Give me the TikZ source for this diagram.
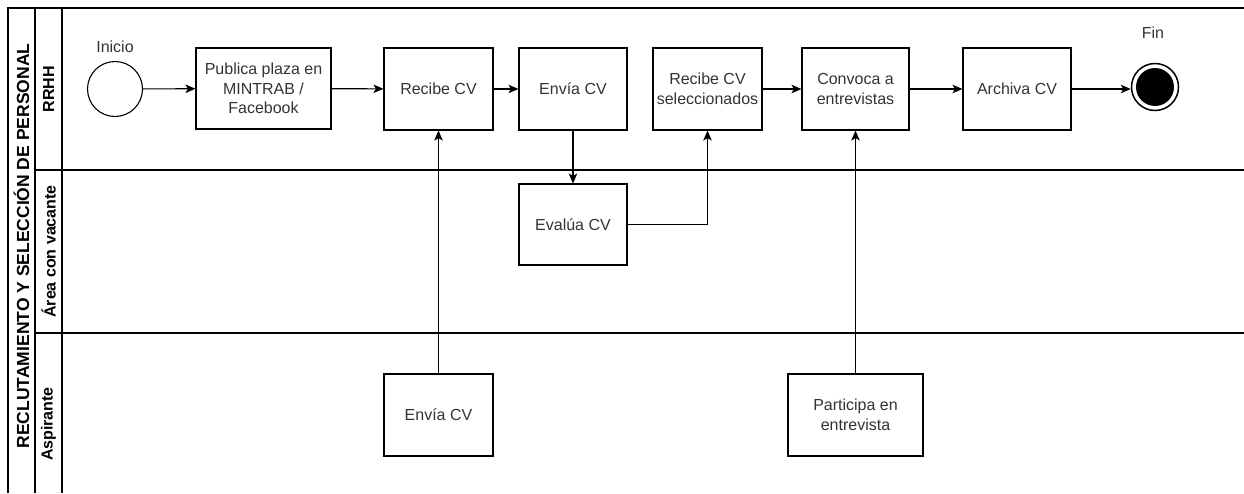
\documentclass[tikz,border=0pt]{standalone}
\usepackage{fontspec}
\setmainfont{Liberation Sans}
\usetikzlibrary{arrows.meta}
\definecolor{txt}{HTML}{333333}
\begin{document}
\begin{tikzpicture}[x=1pt,y=-1pt,
  line width=1.1pt,
  lane/.style={line width=1.2pt},
  task/.style={draw, line width=1.1pt, rectangle, inner sep=1pt, align=center,
    text=txt, font=\fontsize{16}{19.5}\selectfont},
  lbl/.style={text=txt, font=\fontsize{16}{19.5}\selectfont},
  lanelbl/.style={rotate=90, font=\bfseries\fontsize{16}{19}\selectfont},
  flow/.style={-{Stealth[length=10pt,width=8.5pt,inset=2.5pt]}, line width=1.1pt}
]
\useasboundingbox (0,0) rectangle (1244,493);

% pool and lane borders
\draw[lane] (8,493) -- (8,8) -- (1244,8);
\draw[lane] (35,8) -- (35,493);
\draw[lane] (62,8) -- (62,493);
\draw[lane] (35,170) -- (1244,170);
\draw[lane] (35,333) -- (1244,333);

% pool and lane titles
\node[lanelbl, font=\bfseries\fontsize{17.5}{21}\selectfont] (pool) at (21.5,246) {RECLUTAMIENTO Y SELECCIÓN DE PERSONAL};
\node[lanelbl] (l1) at (48.5,89) {RRHH};
\node[lanelbl] (l2) at (48.5,251.5) {Área con vacante};
\node[lanelbl] (l3) at (48.5,424) {Aspirante};

% events
\node[draw, circle, minimum size=55pt, inner sep=0pt, line width=1.1pt] (start) at (115,89) {};
\node[lbl] (startlbl) at (115,47) {Inicio};
\node[circle, draw, line width=1.5pt, minimum size=47pt, inner sep=0pt] (end) at (1155,87) {};
\fill (end.center) circle (19pt);
\node[lbl] (endlbl) at (1153,33) {Fin};

% tasks of RRHH
\node[task, minimum width=135pt, minimum height=81pt] (pub) at (263.5,88.5) {Publica plaza en\\MINTRAB /\\Facebook};
\node[task, minimum width=109pt, minimum height=82pt] (rcv) at (438.5,89) {Recibe CV};
\node[task, minimum width=108pt, minimum height=82pt] (env) at (573,89) {Envía CV};
\node[task, minimum width=109pt, minimum height=82pt] (rsel) at (707.5,89) {Recibe CV\\seleccionados};
\node[task, minimum width=107pt, minimum height=82pt] (conv) at (855.5,89) {Convoca a\\entrevistas};
\node[task, minimum width=108pt, minimum height=82pt] (arch) at (1017,89) {Archiva CV};

% task of the area with the vacancy
\node[task, minimum width=108pt, minimum height=81pt] (eval) at (573,224.5) {Evalúa CV};

% tasks of the applicant
\node[task, minimum width=109pt, minimum height=82pt] (asp) at (438.5,415) {Envía CV};
\node[task, minimum width=135pt, minimum height=82pt] (part) at (855.5,415) {Participa en\\entrevista};

% sequence flows
\draw[flow] (start) -- (pub);
\draw[flow] (pub) -- (rcv);
\draw[flow] (rcv) -- (env);
\draw[flow] (env) -- (eval);
\draw[flow] (eval.east) -| (rsel.south);
\draw[flow] (rsel) -- (conv);
\draw[flow] (conv) -- (arch);
\draw[flow] (arch.east) -- (end.west |- arch.east);
\draw[flow] (asp) -- (rcv);
\draw[flow] (part) -- (conv);
\end{tikzpicture}
\end{document}
